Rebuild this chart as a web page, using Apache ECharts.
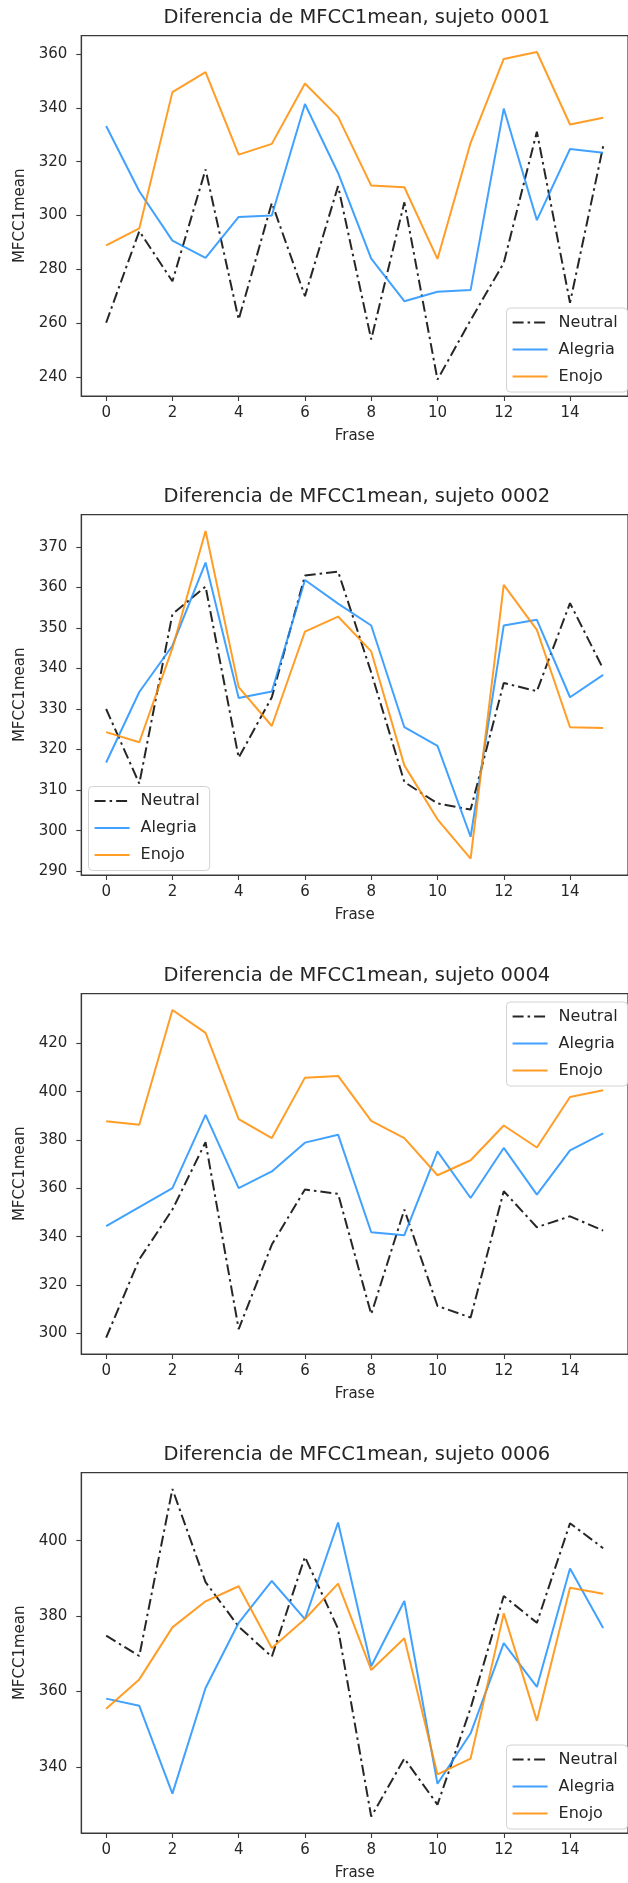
<!DOCTYPE html>
<html>
<head>
<meta charset="utf-8">
<script src="https://cdn.jsdelivr.net/npm/echarts@6/dist/echarts.min.js"></script>
<style>
  html, body { margin: 0; padding: 0; background: #fff; }
  #chart { width: 628px; height: 1883px; }
</style>
</head>
<body>
<div id="chart"></div>
<script>
// Frase index (x axis)
const frases = [0, 1, 2, 3, 4, 5, 6, 7, 8, 9, 10, 11, 12, 13, 14, 15];
const xTicks = [0, 2, 4, 6, 8, 10, 12, 14];

const sujetos = ['0001', '0002', '0004', '0006'];
const emociones = ['Neutral', 'Alegria', 'Enojo'];

// MFCC1mean per frase, sujeto 0001
const neutral0001 = [260.2, 294.2, 275.6, 317.1, 261.4, 304.7, 270.1, 310.9, 254.0, 304.9, 239.1, 261.2, 282.4, 331.1, 267.6, 325.7];
const alegria0001 = [333.2, 309.0, 290.7, 284.3, 299.5, 300.0, 341.4, 315.8, 284.0, 268.2, 271.7, 272.4, 339.7, 298.3, 324.7, 323.3];
const enojo0001   = [288.9, 295.2, 345.8, 353.2, 322.6, 326.6, 349.0, 336.6, 311.1, 310.5, 283.9, 327.0, 358.1, 360.7, 333.8, 336.3];

// sujeto 0002
const neutral0002 = [330.0, 311.6, 353.4, 360.2, 318.0, 332.9, 362.9, 363.9, 339.0, 312.0, 306.7, 305.2, 336.4, 334.4, 356.1, 339.9];
const alegria0002 = [316.8, 334.2, 345.6, 366.1, 332.7, 334.3, 361.8, 356.0, 350.6, 325.5, 320.9, 298.5, 350.6, 352.0, 332.9, 338.4];
const enojo0002   = [324.3, 321.8, 345.0, 373.9, 335.4, 325.8, 349.1, 352.8, 344.2, 316.1, 302.8, 293.1, 360.6, 349.5, 325.5, 325.3];

// sujeto 0004
const neutral0004 = [298.2, 330.6, 351.2, 379.1, 301.7, 336.7, 359.5, 357.7, 307.9, 351.2, 311.3, 306.5, 358.8, 343.9, 348.4, 342.5];
const alegria0004 = [344.3, 352.2, 360.1, 390.4, 360.1, 367.0, 378.9, 382.2, 341.8, 340.6, 375.3, 356.0, 376.7, 357.4, 375.7, 382.7];
const enojo0004   = [387.7, 386.3, 433.8, 424.3, 388.6, 380.8, 405.8, 406.5, 387.9, 380.8, 365.4, 371.6, 386.0, 376.9, 397.8, 400.6];

// sujeto 0006
const neutral0006 = [374.8, 369.4, 413.7, 389.0, 377.2, 369.2, 395.7, 376.6, 326.8, 342.2, 330.0, 355.6, 385.3, 378.2, 404.6, 398.0];
const alegria0006 = [358.1, 356.2, 332.9, 360.9, 378.2, 389.3, 379.2, 404.8, 366.7, 384.0, 335.5, 348.9, 372.8, 361.2, 392.6, 376.8];
const enojo0006   = [355.4, 363.2, 377.0, 383.9, 387.9, 371.5, 379.2, 388.6, 365.7, 374.1, 338.0, 342.2, 380.7, 352.2, 387.5, 385.9];

// y tick labels per subplot
const yTicks0001 = [240, 260, 280, 300, 320, 340, 360];
const yTicks0002 = [290, 300, 310, 320, 330, 340, 350, 360, 370];
const yTicks0004 = [300, 320, 340, 360, 380, 400, 420];
const yTicks0006 = [340, 360, 380, 400];

const seriesBySujeto = [
  [neutral0001, alegria0001, enojo0001],
  [neutral0002, alegria0002, enojo0002],
  [neutral0004, alegria0004, enojo0004],
  [neutral0006, alegria0006, enojo0006]
];
const yTicksBySujeto = [yTicks0001, yTicks0002, yTicks0004, yTicks0006];

const FONT = 'DejaVu Sans';
const TEXT = '#262626';
const AXIS = '#3a3a3a';
const lineColors = ['rgba(0,0,0,0.85)', 'rgba(30,144,255,0.85)', 'rgba(255,140,0,0.85)'];
const lineTypes = [[11, 4, 2.5, 4], 'solid', 'solid'];

// layout of each subplot
const PANEL_STEP = 479;
const PLOT_TOP = 35.6;
const PLOT_H = 360.4;
const PLOT_LEFT = 81.3;
const PLOT_W = 552;
const legendPos = [
  { left: 506.5, top: 308 },
  { left: 88.5, top: 786.5 },
  { left: 506.5, top: 1002 },
  { left: 506.5, top: 1745 }
];

const grids = [], xAxes = [], yAxes = [], titles = [], legends = [], series = [];

sujetos.forEach((suj, k) => {
  const top = PLOT_TOP + k * PANEL_STEP;
  grids.push({
    left: PLOT_LEFT, top: top, width: PLOT_W, height: PLOT_H,
    show: true, borderColor: AXIS, borderWidth: 1.2, backgroundColor: 'transparent'
  });
  titles.push({
    text: 'Diferencia de MFCC1mean, sujeto ' + suj,
    left: PLOT_LEFT + PLOT_W / 2 - 0.5,
    top: top - 27.5,
    textAlign: 'center',
    padding: 0,
    textStyle: { fontFamily: FONT, fontSize: 19.5, fontWeight: 'normal', color: TEXT }
  });
  xAxes.push({
    type: 'value', gridIndex: k, min: -0.75, max: 15.75,
    name: 'Frase', nameLocation: 'middle', nameGap: 33,
    nameTextStyle: { fontFamily: FONT, fontSize: 15, color: TEXT },
    axisLine: { show: true, onZero: false, lineStyle: { color: AXIS, width: 1.2 } },
    splitLine: { show: false },
    axisTick: { show: true, inside: false, length: 5, customValues: xTicks, lineStyle: { color: AXIS, width: 1.1 } },
    axisLabel: { customValues: xTicks, margin: 10, fontFamily: FONT, fontSize: 15, color: TEXT }
  });
  const vals = seriesBySujeto[k].flat();
  const lo = Math.min(...vals), hi = Math.max(...vals);
  const pad = (hi - lo) * 0.05;
  const yt = yTicksBySujeto[k];
  yAxes.push({
    type: 'value', gridIndex: k, min: lo - pad, max: hi + pad,
    name: 'MFCC1mean', nameLocation: 'middle', nameGap: 51, nameRotate: 90,
    nameTextStyle: { fontFamily: FONT, fontSize: 15, color: TEXT },
    axisLine: { show: true, onZero: false, lineStyle: { color: AXIS, width: 1.2 } },
    splitLine: { show: false },
    axisTick: { show: true, inside: false, length: 5, customValues: yt, lineStyle: { color: AXIS, width: 1.1 } },
    axisLabel: { customValues: yt, margin: 14, fontFamily: FONT, fontSize: 15, color: TEXT }
  });
  legends.push({
    data: emociones,
    orient: 'vertical',
    left: legendPos[k].left, top: legendPos[k].top,
    itemWidth: 35, itemHeight: 14, itemGap: 11,
    padding: [6.5, 10, 7.5, 5],
    backgroundColor: 'rgba(255,255,255,0.85)',
    borderColor: '#d2d2d2', borderWidth: 1, borderRadius: 4,
    selectedMode: false,
    itemStyle: { opacity: 0, borderWidth: 0 },
    lineStyle: { type: 'inherit', width: 2.2 },
    textStyle: { fontFamily: FONT, fontSize: 16, color: TEXT, padding: [0, 0, 0, 6] }
  });
  emociones.forEach((emo, j) => {
    series.push({
      name: emo, type: 'line', xAxisIndex: k, yAxisIndex: k,
      data: seriesBySujeto[k][j].map((v, i) => [frases[i], v]),
      symbol: 'none', showSymbol: false, animation: false,
      lineStyle: { color: lineColors[j], width: 2, type: lineTypes[j] },
      itemStyle: { color: lineColors[j] },
      z: 2 + j
    });
  });
});

const chart = echarts.init(document.getElementById('chart'), null, { renderer: 'canvas' });
chart.setOption({
  animation: false,
  backgroundColor: '#fff',
  title: titles,
  grid: grids,
  xAxis: xAxes,
  yAxis: yAxes,
  legend: legends,
  series: series
});
</script>
</body>
</html>
